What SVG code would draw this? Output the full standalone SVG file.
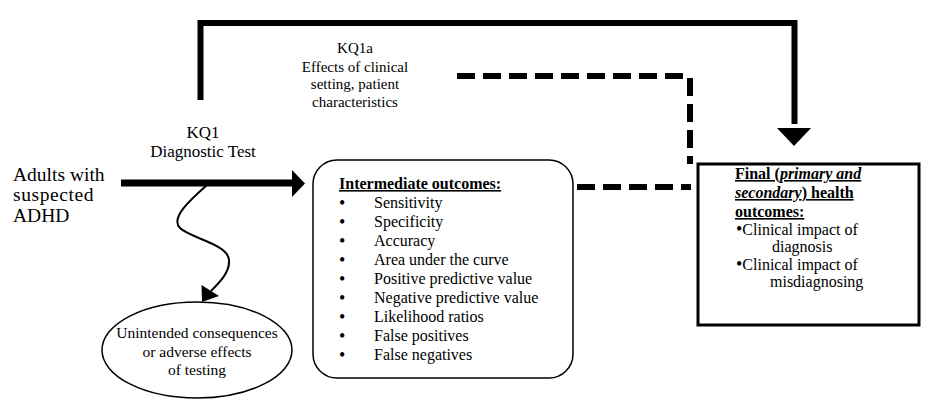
<svg xmlns="http://www.w3.org/2000/svg" width="936" height="416" viewBox="0 0 936 416">
<style>
text{font-family:'Liberation Serif','DejaVu Serif',serif;fill:#000}
.lbl{font-size:15px;text-anchor:middle}
.big{font-size:19.5px}
.it{font-size:16px}
.b{font-weight:bold}
.u{text-decoration:underline}
.bul{font-size:18px}
.solid{fill:none;stroke:#000;stroke-width:6;stroke-linejoin:miter}
.dash{fill:none;stroke:#000;stroke-width:6;stroke-dasharray:18 8}
.box{fill:#fff;stroke:#000}
</style>
<rect width="936" height="416" fill="#fff"/>
<g id="connectors">
  <path class="solid" d="M200.5,100 V23 H794.5 V124"/>
  <polygon points="777,128 811,128 794,146" fill="#000"/>
  <path class="dash" d="M457,76 H683"/>
  <path class="dash" d="M690,78 V164"/>
  <path class="dash" d="M577,187 H691"/>
  <path class="solid" style="stroke-width:7" d="M121,183 H293"/>
  <polygon points="292,170 292,197 305,183.5" fill="#000"/>
  <path fill="none" stroke="#000" stroke-width="2" d="M207,185 C190,200 170,218 180,228 C190,238 228,244 229,260 C230,272 220,282 211,291"/>
  <polygon points="202,302 201.5,285 219,296" fill="#000"/>
</g>
<g id="label-kq1a">
  <text class="lbl" x="355" y="53">KQ1a</text>
  <text class="lbl" x="355" y="72">Effects of clinical</text>
  <text class="lbl" x="355" y="89">setting, patient</text>
  <text class="lbl" x="355" y="107">characteristics</text>
</g>
<g id="label-kq1">
  <text class="lbl" x="203" y="138" style="font-size:17px">KQ1</text>
  <text class="lbl" x="203" y="157" style="font-size:17px">Diagnostic Test</text>
</g>
<g id="node-adults">
  <text class="big" x="13" y="181">Adults with</text>
  <text class="big" x="13" y="201" letter-spacing="0.6">suspected</text>
  <text class="big" x="13" y="222">ADHD</text>
</g>
<g id="node-intermediate">
  <rect class="box" x="313" y="160" width="260" height="218" rx="24" ry="24" stroke-width="1.5"/>
  <text class="it b u" x="339" y="189">Intermediate outcomes:</text>
  <g class="it">
    <text class="bul" x="339" y="208.5">•</text><text x="374" y="208">Sensitivity</text>
    <text class="bul" x="339" y="227.5">•</text><text x="374" y="227">Specificity</text>
    <text class="bul" x="339" y="246.5">•</text><text x="374" y="246">Accuracy</text>
    <text class="bul" x="339" y="265.5">•</text><text x="374" y="265">Area under the curve</text>
    <text class="bul" x="339" y="284.5">•</text><text x="374" y="284">Positive predictive value</text>
    <text class="bul" x="339" y="303.5">•</text><text x="374" y="303">Negative predictive value</text>
    <text class="bul" x="339" y="322.5">•</text><text x="374" y="322">Likelihood ratios</text>
    <text class="bul" x="339" y="341.5">•</text><text x="374" y="341">False positives</text>
    <text class="bul" x="339" y="360.5">•</text><text x="374" y="360">False negatives</text>
  </g>
</g>
<g id="node-final">
  <rect class="box" x="698" y="164" width="221" height="161" stroke-width="3"/>
  <text class="it b u" x="735" y="179">Final (<tspan font-style="italic">primary and</tspan></text>
  <text class="it b u" x="735" y="198"><tspan font-style="italic">secondary</tspan>) health</text>
  <text class="it b u" x="735" y="217">outcomes:</text>
  <text class="it" x="736" y="235"><tspan font-size="18px">•</tspan>Clinical impact of</text>
  <text class="it" x="772" y="252">diagnosis</text>
  <text class="it" x="736" y="270"><tspan font-size="18px">•</tspan>Clinical impact of</text>
  <text class="it" x="770" y="287">misdiagnosing</text>
</g>
<g id="node-unintended">
  <ellipse class="box" cx="197" cy="350" rx="95" ry="48" stroke-width="1.5"/>
  <text class="lbl" x="197" y="338" style="font-size:15.5px">Unintended consequences</text>
  <text class="lbl" x="197" y="357" style="font-size:15.5px">or adverse effects</text>
  <text class="lbl" x="197" y="375" style="font-size:15.5px">of testing</text>
</g>
</svg>
